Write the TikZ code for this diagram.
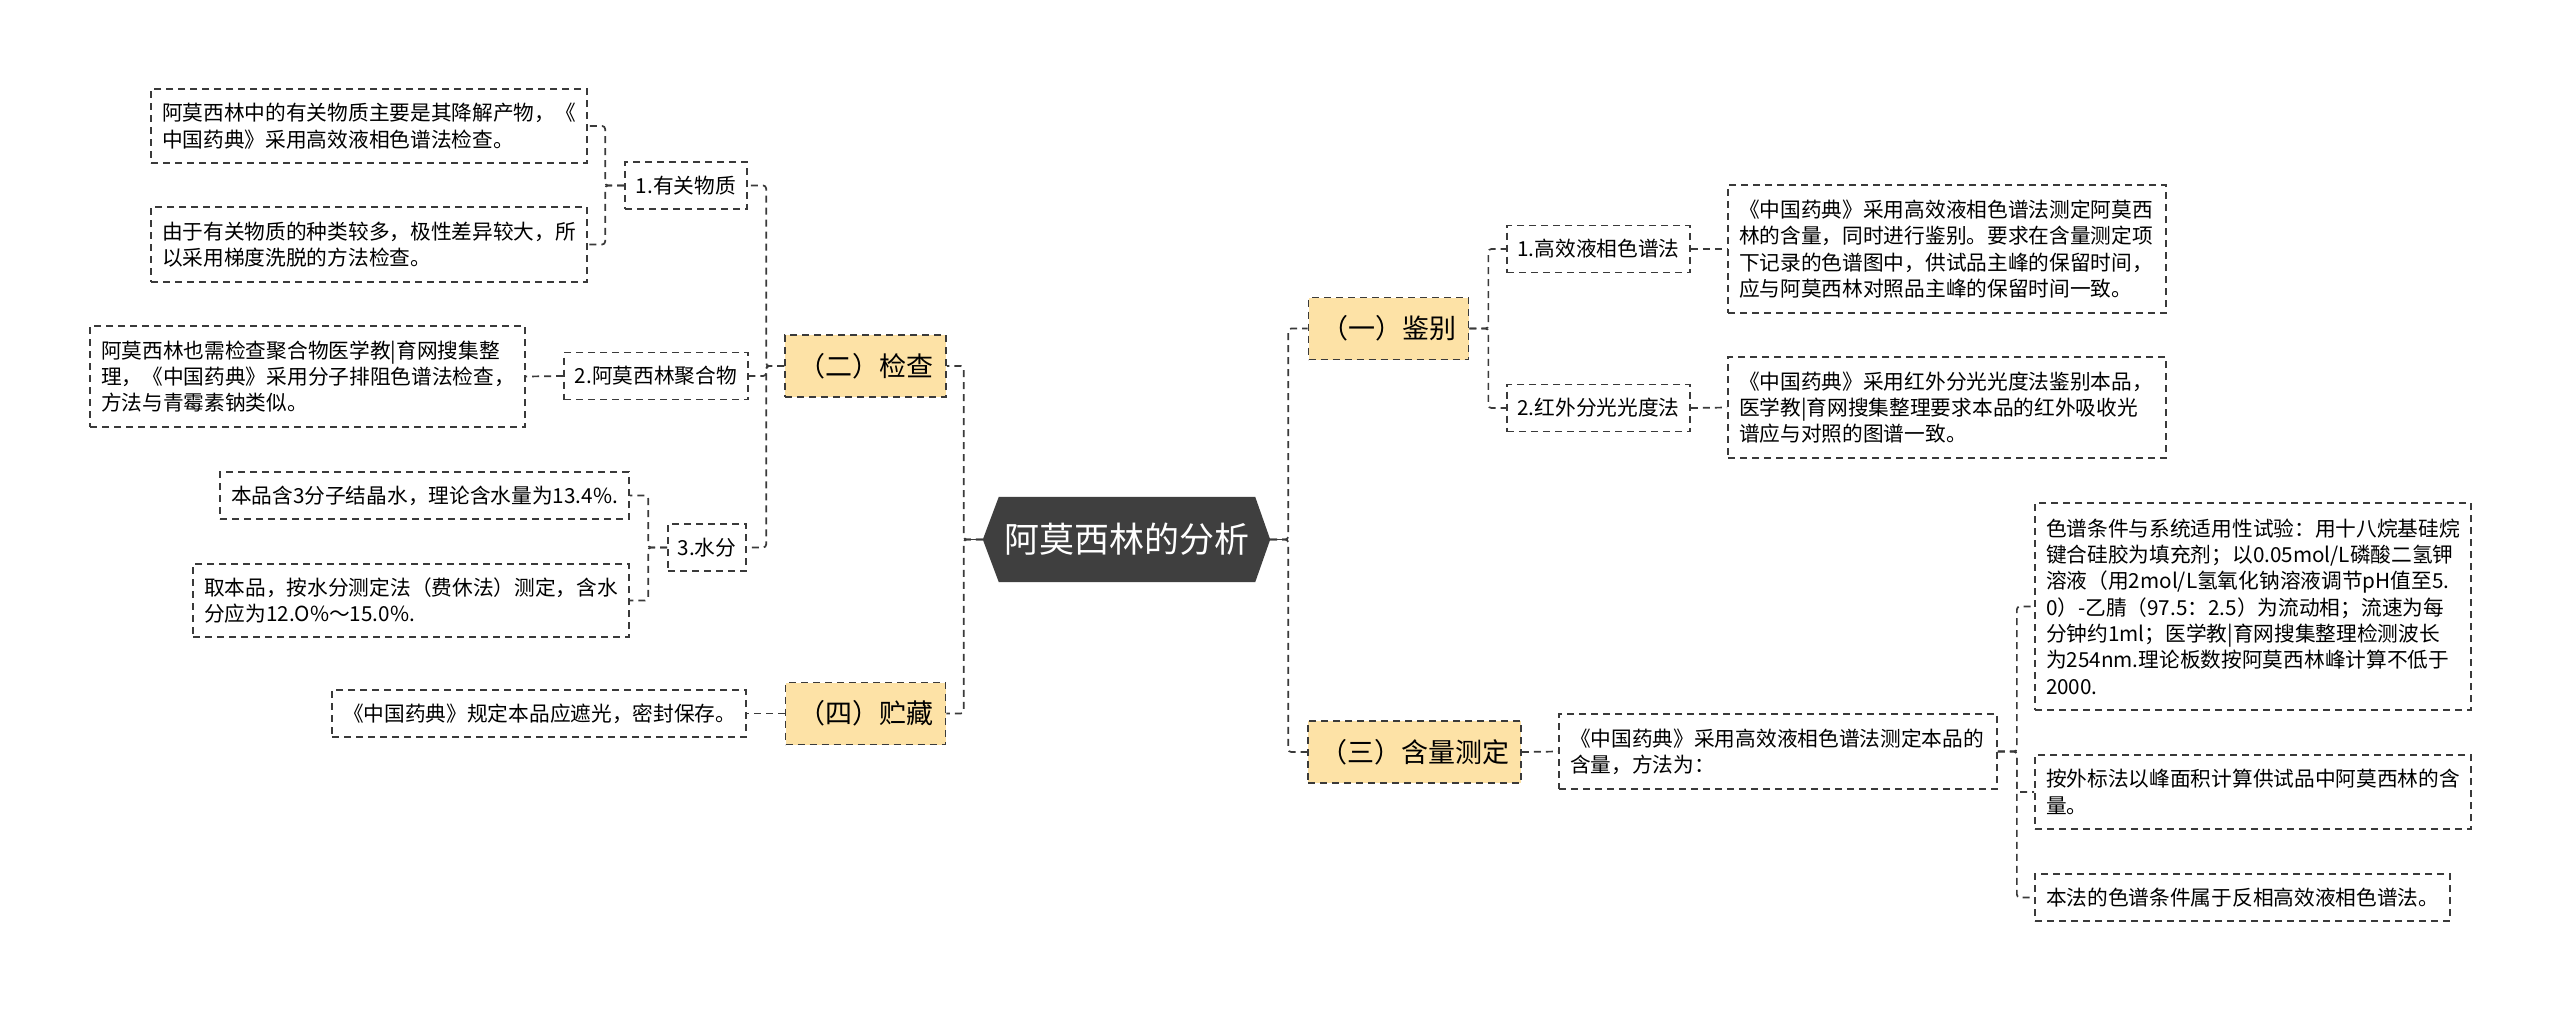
\documentclass[tikz,border=0pt]{standalone}
\usepackage{fontspec}
\newfontfamily\cjk{Noto Sans CJK SC}
\usetikzlibrary{backgrounds}
\definecolor{lineC}{HTML}{3A3A3A}
\definecolor{orangeF}{HTML}{FDE2A6}
\definecolor{rootF}{HTML}{3F3F3F}
\begin{document}
\begin{tikzpicture}[x=1pt,y=-1pt,
  dashbox/.style={draw=lineC, line width=1.7pt, dash pattern=on 7pt off 5pt},
  leaf/.style={dashbox, align=left, inner xsep=11pt, inner ysep=0pt,
    font=\cjk\fontsize{20.7}{26.3}\selectfont},
  midnode/.style={dashbox, align=center, inner xsep=0pt, inner ysep=0pt,
    minimum height=47pt, font=\cjk\fontsize{20.7}{26.3}\selectfont},
  topic/.style={dashbox, fill=orangeF, align=center, inner sep=0pt,
    minimum height=62pt, font=\cjk\fontsize{27}{32}\selectfont},
  rootnode/.style={inner sep=0pt, minimum width=287pt, minimum height=85pt,
    text=white, font=\cjk\fontsize{35}{40}\selectfont},
  conn/.style={draw=lineC, line width=1.7pt, dash pattern=on 7pt off 5pt, rounded corners=3pt},
  solidconn/.style={draw=lineC, line width=1.7pt}
]
\begin{scope}[on background layer]
\fill[white] (0,0) rectangle (2560,1010);
\end{scope}
\useasboundingbox (0,0) rectangle (2560,1010);

% root
\node[rootnode] (root) at (1126.5,539.5) {阿莫西林的分析};
\begin{scope}[on background layer]
\fill[rootF] ([xshift=16pt]root.north west) -- ([xshift=-15pt]root.north east) -- (root.east)
  -- ([xshift=-15pt]root.south east) -- ([xshift=16pt]root.south west) -- (root.west) -- cycle;
\end{scope}

% level 1
\node[topic, minimum width=161pt] (jiancha) at (865.5,366) {（二）检查};
\node[topic, minimum width=160pt] (zhucang) at (865.5,713.5) {（四）贮藏};
\node[topic, minimum width=160pt] (jianbie) at (1388.5,328.5) {（一）鉴别};
\node[topic, minimum width=213pt] (hanliang) at (1414.5,752) {（三）含量测定};

% level 2
\node[midnode, minimum width=122pt] (n11) at (686,185.5) {1.有关物质};
\node[midnode, minimum width=184pt] (n12) at (656,376) {2.阿莫西林聚合物};
\node[midnode, minimum width=78pt] (n13) at (707,547.5) {3.水分};
\node[midnode, minimum width=183pt] (r11) at (1598.5,249) {1.高效液相色谱法};
\node[midnode, minimum width=183pt] (r12) at (1598.5,408) {2.红外分光光度法};

% leaves left
\node[leaf, text width=414pt, minimum height=74pt] (a1) at (369,126)
  {阿莫西林中的有关物质主要是其降解产物，《\\中国药典》采用高效液相色谱法检查。};
\node[leaf, text width=414pt, minimum height=75pt] (a2) at (369,244.5)
  {由于有关物质的种类较多，极性差异较大，所\\以采用梯度洗脱的方法检查。};
\node[leaf, text width=413pt, minimum height=101pt] (b1) at (307.5,376.5)
  {阿莫西林也需检查聚合物医学教|育网搜集整\\理，《中国药典》采用分子排阻色谱法检查，\\方法与青霉素钠类似。};
\node[leaf, text width=387pt, minimum height=47pt] (c1) at (424.5,495.5)
  {本品含3分子结晶水，理论含水量为13.4\%.};
\node[leaf, text width=414pt, minimum height=73pt] (c2) at (411,600.5)
  {取本品，按水分测定法（费休法）测定，含水\\分应为12.O\%～15.0\%.};
\node[leaf, text width=392pt, minimum height=47pt] (d1) at (539,713.5)
  {《中国药典》规定本品应遮光，密封保存。};

% leaves right
\node[leaf, text width=416pt, minimum height=128pt] (e1) at (1947,249)
  {《中国药典》采用高效液相色谱法测定阿莫西\\林的含量，同时进行鉴别。要求在含量测定项\\下记录的色谱图中，供试品主峰的保留时间，\\应与阿莫西林对照品主峰的保留时间一致。};
\node[leaf, text width=416pt, minimum height=101pt] (e2) at (1947,407.5)
  {《中国药典》采用红外分光光度法鉴别本品，\\医学教|育网搜集整理要求本品的红外吸收光\\谱应与对照的图谱一致。};
\node[leaf, text width=416pt, minimum height=75pt] (f1) at (1778,751.5)
  {《中国药典》采用高效液相色谱法测定本品的\\含量，方法为：};
\node[leaf, text width=414pt, minimum height=207pt] (g1) at (2253,606.5)
  {色谱条件与系统适用性试验：用十八烷基硅烷\\键合硅胶为填充剂；以0.05mol/L磷酸二氢钾\\溶液（用2mol/L氢氧化钠溶液调节pH值至5.\\0）-乙腈（97.5：2.5）为流动相；流速为每\\分钟约1ml；医学教|育网搜集整理检测波长\\为254nm.理论板数按阿莫西林峰计算不低于\\2000.};
\node[leaf, text width=414pt, minimum height=74pt] (g2) at (2253,792)
  {按外标法以峰面积计算供试品中阿莫西林的含\\量。};
\node[leaf, text width=393pt, minimum height=47pt] (g3) at (2242.5,897.5)
  {本法的色谱条件属于反相高效液相色谱法。};

% connectors from root
\draw[conn] (root.west) -- ++(-19,0) |- (jiancha.east);
\draw[conn] (root.west) -- ++(-19,0) |- (zhucang.east);
\draw[conn] (root.east) -- ++(18,0) |- (jianbie.west);
\draw[conn] (root.east) -- ++(18,0) |- (hanliang.west);
\draw[solidconn] (root.west) -- ++(-19,0);
\draw[solidconn] (root.east) -- ++(18,0);

% left side
\draw[conn] (jiancha.west) -- ++(-18,0) |- (n11.east);
\draw[conn] (jiancha.west) -- ++(-18,0) |- (n12.east);
\draw[conn] (jiancha.west) -- ++(-18,0) |- (n13.east);
\draw[conn] (n11.west) -- ++(-19,0) |- (a1.east);
\draw[conn] (n11.west) -- ++(-19,0) |- (a2.east);
\draw[conn] (n12.west) -- (b1.east);
\draw[conn] (n13.west) -- ++(-19,0) |- (c1.east);
\draw[conn] (n13.west) -- ++(-19,0) |- (c2.east);
\draw[conn] (zhucang.west) -- (d1.east);

% right side
\draw[conn] (jianbie.east) -- ++(19,0) |- (r11.west);
\draw[conn] (jianbie.east) -- ++(19,0) |- (r12.west);
\draw[conn] (r11.east) -- (e1.west);
\draw[conn] (r12.east) -- (e2.west);
\draw[conn] (hanliang.east) -- (f1.west);
\draw[conn] (f1.east) -- ++(19,0) |- (g1.west);
\draw[conn] (f1.east) -- ++(19,0) |- (g2.west);
\draw[conn] (f1.east) -- ++(19,0) |- (g3.west);
\end{tikzpicture}
\end{document}
